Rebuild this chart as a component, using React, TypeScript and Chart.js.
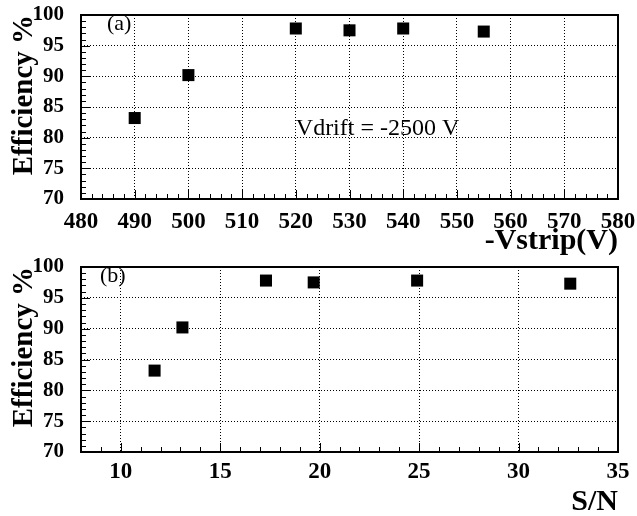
import React, { useEffect, useRef } from 'react';
import { Chart, registerables } from 'chart.js';

Chart.register(...registerables);

// ---- data ----
const vstrip = [490, 500, 520, 530, 540, 555];
const snr = [11.7, 13.1, 17.3, 19.7, 24.9, 32.6];
const efficiency = [83.2, 90.2, 97.8, 97.5, 97.8, 97.3];

const effTicks = [70, 75, 80, 85, 90, 95, 100];
const vstripTicks = [480, 490, 500, 510, 520, 530, 540, 550, 560, 570, 580];
const snrTicks = [10, 15, 20, 25, 30, 35];

const yTitle = 'Efficiency %';
const xTitleA = '-Vstrip(V)';
const xTitleB = 'S/N';
const labelA = '(a)';
const labelB = '(b)';
const vdriftText = 'Vdrift = -2500 V';

const SERIF = "'Liberation Serif', 'Times New Roman', serif";

type PanelCfg = {
  xs: number[];
  xMin: number;
  xMax: number;
  xTicks: number[];
  xMinorStep: number;
  xTitle: string;
  xTickSize: number;
  xTickPad: number;
  xTitlePad: number;
  xTitleLH: number;
  padTop: number;
  xHeight: number;
  tag: string;
  tagDx: number;
  tagDy: number;
  note?: { text: string; x: number; y: number };
};

const zeroPad = (s: any) => {
  s.paddingTop = 0;
  s.paddingBottom = 0;
  s.paddingLeft = 0;
  s.paddingRight = 0;
};

function rootPlugin(cfg: PanelCfg) {
  return {
    id: 'rootFrame',
    afterDraw(chart: any) {
      const { ctx, chartArea: a, scales } = chart;
      const x = scales.x;
      const y = scales.y;
      const L = Math.round(a.left);
      const R = Math.round(a.right);
      const T = Math.round(a.top);
      const B = Math.round(a.bottom);
      ctx.save();
      ctx.setLineDash([]);
      ctx.strokeStyle = '#000';
      ctx.lineWidth = 1;
      const isMajor = (ticks: any[], v: number) => ticks.some((t: any) => Math.abs(t.value - v) < 1e-6);
      for (let v = x.min; v <= x.max + 1e-9; v += cfg.xMinorStep) {
        const px = Math.round(x.getPixelForValue(v)) + 0.5;
        const len = isMajor(x.ticks, v) ? 9 : 5;
        ctx.beginPath();
        ctx.moveTo(px, B);
        ctx.lineTo(px, B - len);
        ctx.stroke();
      }
      for (let v = y.min; v <= y.max + 1e-9; v += 1) {
        const py = Math.round(y.getPixelForValue(v)) + 0.5;
        const len = isMajor(y.ticks, v) ? 9 : 5;
        ctx.beginPath();
        ctx.moveTo(L, py);
        ctx.lineTo(L + len, py);
        ctx.stroke();
      }
      ctx.lineWidth = 2;
      ctx.strokeRect(L, T, R - L, B - T);
      ctx.fillStyle = '#000';
      ctx.textBaseline = 'middle';
      ctx.textAlign = 'left';
      ctx.font = `22px ${SERIF}`;
      ctx.fillText(cfg.tag, L + cfg.tagDx, T + cfg.tagDy);
      if (cfg.note) {
        ctx.font = `24px ${SERIF}`;
        ctx.fillText(cfg.note.text, x.getPixelForValue(cfg.note.x), y.getPixelForValue(cfg.note.y));
      }
      ctx.restore();
    },
  };
}

function makeConfig(cfg: PanelCfg): any {
  return {
    type: 'scatter',
    data: {
      datasets: [
        {
          data: cfg.xs.map((v, i) => ({ x: v, y: efficiency[i] })),
          backgroundColor: '#000',
          borderColor: '#000',
          borderWidth: 0,
          pointStyle: 'rect',
          pointRadius: 8.5,
          pointHoverRadius: 8.5,
        },
      ],
    },
    options: {
      responsive: false,
      animation: false,
      events: [],
      layout: { autoPadding: false, padding: { left: 0, right: 19, top: cfg.padTop, bottom: 0 } },
      plugins: { legend: { display: false }, tooltip: { enabled: false } },
      scales: {
        x: {
          type: 'linear',
          min: cfg.xMin,
          max: cfg.xMax,
          afterBuildTicks: (s: any) => {
            s.ticks = cfg.xTicks.map((v) => ({ value: v }));
          },
          afterFit: (s: any) => {
            s.height = cfg.xHeight;
            zeroPad(s);
          },
          grid: { color: '#000', lineWidth: 1, drawTicks: false },
          border: { display: false, dash: [1, 2] },
          ticks: {
            color: '#000',
            padding: cfg.xTickPad,
            maxRotation: 0,
            autoSkip: false,
            font: { family: SERIF, size: cfg.xTickSize, weight: 'bold' },
          },
          title: {
            display: true,
            text: cfg.xTitle,
            align: 'end',
            color: '#000',
            font: { family: SERIF, size: 30, weight: 'bold', lineHeight: cfg.xTitleLH },
            padding: { top: 0, bottom: cfg.xTitlePad },
          },
        },
        y: {
          type: 'linear',
          min: 70,
          max: 100,
          afterBuildTicks: (s: any) => {
            s.ticks = effTicks.map((v) => ({ value: v }));
          },
          afterFit: (s: any) => {
            s.width = 81;
            zeroPad(s);
          },
          grid: { color: '#000', lineWidth: 1, drawTicks: false },
          border: { display: false, dash: [1, 2] },
          ticks: {
            color: '#000',
            padding: 17,
            autoSkip: false,
            font: { family: SERIF, size: 21, weight: 'bold' },
          },
          title: {
            display: true,
            text: yTitle,
            align: 'end',
            color: '#000',
            font: { family: SERIF, size: 29, weight: 'bold', lineHeight: 1 },
            padding: { top: 10, bottom: 0 },
          },
        },
      },
    },
    plugins: [rootPlugin(cfg)],
  };
}

const panelA: PanelCfg = {
  xs: vstrip,
  xMin: 480,
  xMax: 580,
  xTicks: vstripTicks,
  xMinorStep: 2,
  xTitle: xTitleA,
  xTickSize: 23,
  xTickPad: 9,
  xTitlePad: 2,
  xTitleLH: 1,
  padTop: 15,
  xHeight: 59,
  tag: labelA,
  tagDx: 26,
  tagDy: 9,
  note: { text: vdriftText, x: 520, y: 81.4 },
};

const panelB: PanelCfg = {
  xs: snr,
  xMin: 8,
  xMax: 35,
  xTicks: snrTicks,
  xMinorStep: 1,
  xTitle: xTitleB,
  xTickSize: 23,
  xTickPad: 6,
  xTitlePad: 0,
  xTitleLH: 0.9,
  padTop: 9,
  xHeight: 64,
  tag: labelB,
  tagDx: 19,
  tagDy: 9,
};

export default function App() {
  const refA = useRef<HTMLCanvasElement | null>(null);
  const refB = useRef<HTMLCanvasElement | null>(null);

  useEffect(() => {
    const charts: Chart[] = [];
    if (refA.current) charts.push(new Chart(refA.current, makeConfig(panelA)));
    if (refB.current) charts.push(new Chart(refB.current, makeConfig(panelB)));
    return () => charts.forEach((c) => c.destroy());
  }, []);

  return (
    <div style={{ position: 'absolute', left: 0, top: 0, width: 637, height: 516, background: '#fff' }}>
      <canvas ref={refA} width={637} height={258} style={{ display: 'block', width: 637, height: 258 }} />
      <canvas ref={refB} width={637} height={258} style={{ display: 'block', width: 637, height: 258 }} />
    </div>
  );
}
